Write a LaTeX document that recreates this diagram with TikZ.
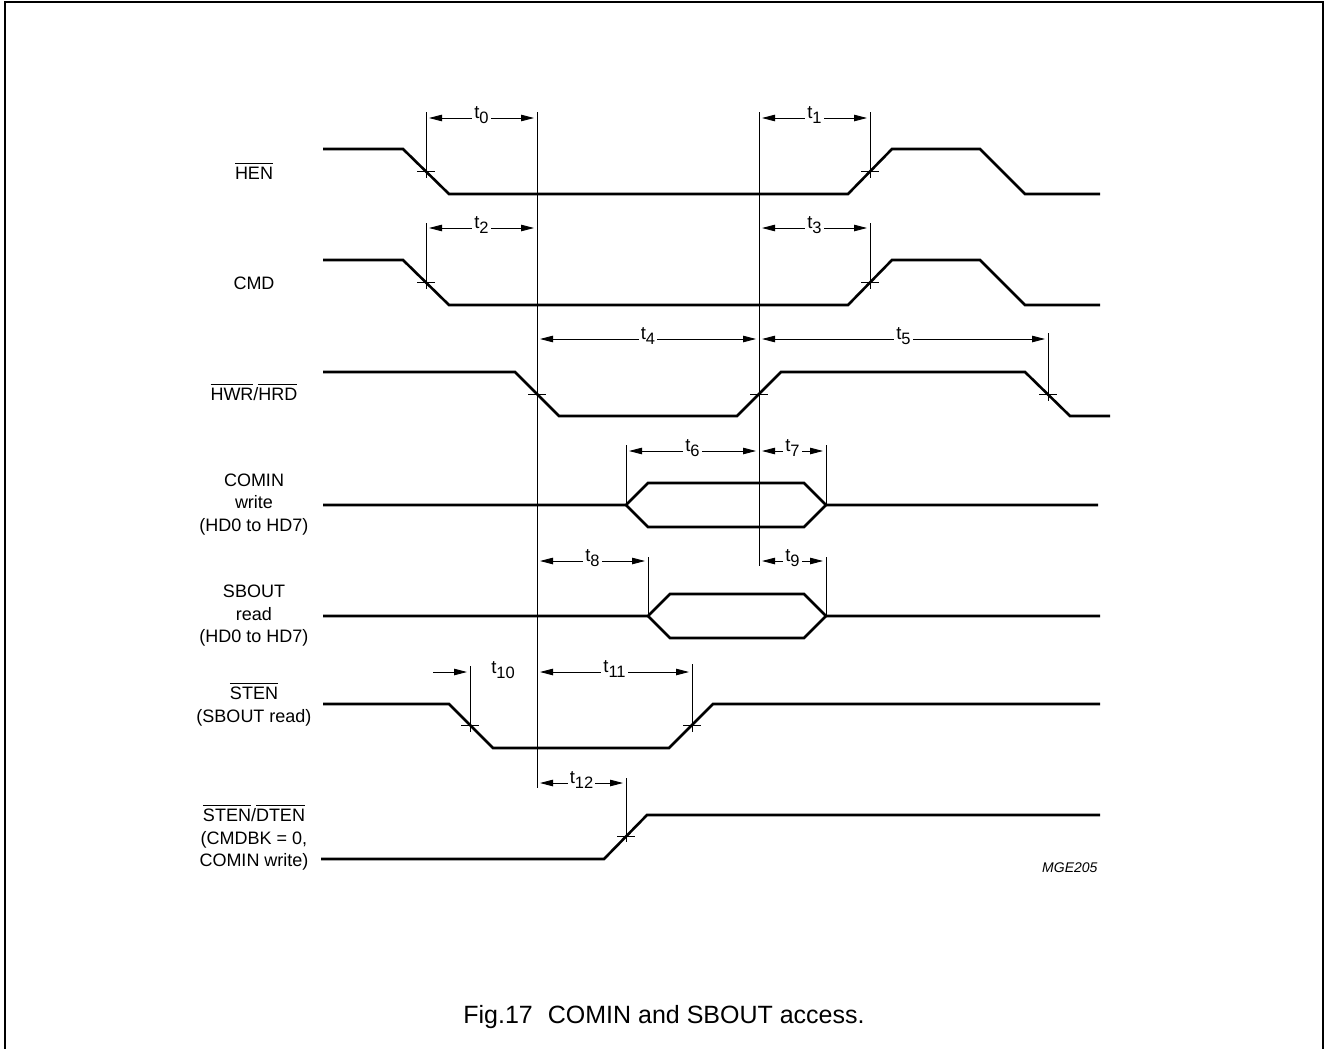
\documentclass[tikz,border=0pt]{standalone}
\usepackage{fontspec}
\setmainfont{Liberation Sans}
\usetikzlibrary{arrows.meta}
\newcommand\ovl[1]{\vbox{\hrule height 0.9pt\kern2.6pt\hbox{#1}}}
\newcommand\tsub[1]{t\raisebox{-5.5pt}{\fontsize{16.5}{16.5}\selectfont #1}}
\begin{document}
\begin{tikzpicture}[x=1pt,y=-1pt,
  sig/.style={line width=2.6pt, line join=miter},
  guide/.style={line width=0.9pt},
  dim/.style={line width=0.9pt, {Triangle[length=13pt,width=6.5pt]}-{Triangle[length=13pt,width=6.5pt]}, shorten <=3pt, shorten >=3pt},
  tlab/.style={font=\fontsize{18.5}{18.5}\selectfont, fill=white, inner sep=2pt, anchor=base},
  lab/.style={font=\fontsize{18}{18}\selectfont, anchor=base, inner sep=0pt},
]
\useasboundingbox (0,0) rectangle (1326,1049);
\clip (0,0) rectangle (1326,1049);
% frame
\draw[line width=1.5pt] (5,1060) -- (5,2) -- (1323,2) -- (1323,1060);

% long reference lines
\draw[guide] (537,112) -- (537,788);
\draw[guide] (759,112) -- (759,566);

% HEN
\draw[sig] (323,149) -- (403,149) -- (449,194) -- (848,194) -- (892,149) -- (980,149) -- (1025,194) -- (1100,194);
\draw[guide] (426,112) -- (426,178);
\draw[guide] (870,112) -- (870,178);
\draw[guide] (417,171.5) -- (435,171.5);
\draw[guide] (861,171.5) -- (879,171.5);
\draw[dim] (426,118) -- node[tlab] (l0) {\tsub{0}} (537,118);
\draw[dim] (759,118) -- node[tlab] (l1) {\tsub{1}} (870,118);

% CMD
\draw[sig] (323,260) -- (403,260) -- (449,305) -- (848,305) -- (892,260) -- (980,260) -- (1025,305) -- (1100,305);
\draw[guide] (426,223) -- (426,289);
\draw[guide] (870,223) -- (870,289);
\draw[guide] (417,282.5) -- (435,282.5);
\draw[guide] (861,282.5) -- (879,282.5);
\draw[dim] (426,228) -- node[tlab] (l2) {\tsub{2}} (537,228);
\draw[dim] (759,228) -- node[tlab] (l3) {\tsub{3}} (870,228);

% HWR/HRD
\draw[sig] (323,372) -- (515,372) -- (559,416) -- (737,416) -- (781,372) -- (1025,372) -- (1070,416) -- (1110,416);
\draw[guide] (528,394) -- (546,394);
\draw[guide] (750,394) -- (768,394);
\draw[guide] (1048,333) -- (1048,401);
\draw[guide] (1039,394) -- (1057,394);
\draw[dim] (537,339) -- node[tlab] (l4) {\tsub{4}} (759,339);
\draw[dim] (759,339) -- node[tlab] (l5) {\tsub{5}} (1048,339);

% COMIN write
\draw[sig] (323,505) -- (626,505) -- (648,483) -- (804,483) -- (826,505) -- (1098,505);
\draw[sig] (626,505) -- (648,527) -- (804,527) -- (826,505);
\draw[guide] (626,445) -- (626,505);
\draw[guide] (826,445) -- (826,505);
\draw[dim] (626,451) -- node[tlab] (l6) {\tsub{6}} (759,451);
\draw[dim] (759,451) -- node[tlab] (l7) {\tsub{7}} (826,451);

% SBOUT read
\draw[sig] (323,616) -- (648,616) -- (670,594) -- (804,594) -- (826,616) -- (1100,616);
\draw[sig] (648,616) -- (670,638) -- (804,638) -- (826,616);
\draw[guide] (648,557) -- (648,616);
\draw[guide] (826,557) -- (826,616);
\draw[dim] (537,561) -- node[tlab] (l8) {\tsub{8}} (648,561);
\draw[dim] (759,561) -- node[tlab] (l9) {\tsub{9}} (826,561);

% STEN (SBOUT read)
\draw[sig] (323,704) -- (449,704) -- (493,748) -- (669,748) -- (713,704) -- (1100,704);
\draw[guide] (470,666) -- (470,732);
\draw[guide] (692,664) -- (692,732);
\draw[guide] (461,725) -- (479,725);
\draw[guide] (683,725) -- (701,725);
\coordinate (a10) at (433,672);
\coordinate (b10) at (470,672);
\draw[guide, -{Triangle[length=13pt,width=6.5pt]}, shorten >=3pt] (a10) -- (b10);
\node[lab, font=\fontsize{18.5}{18.5}\selectfont] (l10) at (503,673) {\tsub{10}};
\draw[dim] (537,672) -- node[tlab] (l11) {\tsub{11}} (692,672);

% STEN/DTEN
\draw[sig] (321,859) -- (604,859) -- (647,815) -- (1100,815);
\draw[guide] (626,778) -- (626,842);
\draw[guide] (617,836.5) -- (635,836.5);
\draw[dim] (537,783) -- node[tlab] (l12) {\tsub{12}} (626,783);

% signal labels
\node[lab] (hen) at (254,179) {\ovl{HEN}};
\node[lab] (cmd) at (254,289) {CMD};
\node[lab] (hwr) at (254,400) {\ovl{HWR}/\ovl{HRD}};
\node[lab] (comin1) at (254,486) {COMIN};
\node[lab] (comin2) at (254,508.5) {write};
\node[lab] (comin3) at (254,531) {(HD0 to HD7)};
\node[lab] (sbout1) at (254,597) {SBOUT};
\node[lab] (sbout2) at (254,620) {read};
\node[lab] (sbout3) at (254,642) {(HD0 to HD7)};
\node[lab] (sten1) at (254,699) {\ovl{STEN}};
\node[lab] (sten2) at (254,722) {(SBOUT read)};
\node[lab] (dten1) at (254,821) {\ovl{STEN}/\ovl{DTEN}};
\node[lab] (dten2) at (254,844) {(CMDBK = 0,};
\node[lab] (dten3) at (254,866) {COMIN write)};

\node[font=\fontsize{14}{14}\selectfont\itshape, anchor=base west, inner sep=0pt] (mge) at (1042,872) {MGE205};
\node[font=\fontsize{25}{25}\selectfont, anchor=base, inner sep=0pt] (cap) at (664,1023) {Fig.17\hspace{0.6em}COMIN and SBOUT access.};
\end{tikzpicture}
\end{document}
